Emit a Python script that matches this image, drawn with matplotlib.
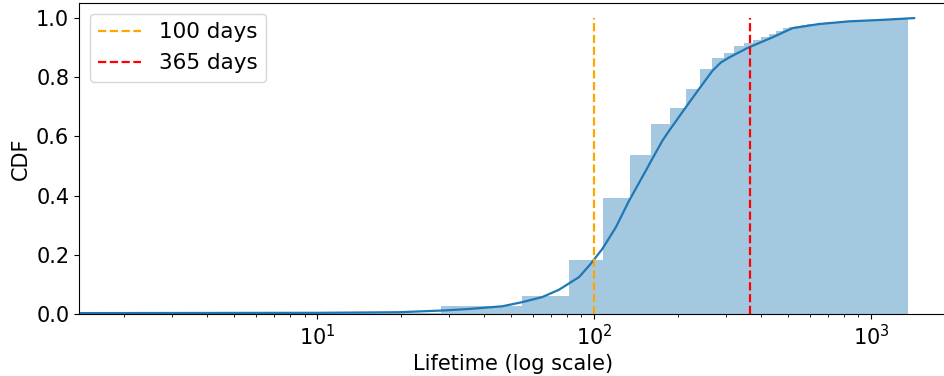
import numpy as np
import matplotlib
matplotlib.use("Agg")
import matplotlib.pyplot as plt

# Histogram (cumulative) - equal-width bins in linear space
bin_start = 1.5
bin_stop = 1358.0
n_bins = 51
cum_heights = [0.005, 0.028, 0.061, 0.182, 0.392, 0.538, 0.640, 0.697, 0.759, 0.827,
               0.863, 0.880, 0.905, 0.915, 0.925, 0.935, 0.947, 0.957, 0.964, 0.970,
               0.973, 0.976, 0.978, 0.980, 0.982, 0.984, 0.985, 0.986, 0.987, 0.988,
               0.989, 0.990, 0.991, 0.992, 0.992, 0.993, 0.993, 0.994, 0.994, 0.995,
               0.995, 0.996, 0.996, 0.997, 0.997, 0.998, 0.998, 0.998, 0.999, 0.999,
               1.000]

# Smooth CDF line
cdf_x = [1.38, 10, 19.8, 28.7, 35.4, 46.6, 55.0, 64.9, 74.7, 88.3, 97.3, 107.1,
         119.8, 133.8, 153.7, 160.2, 176.4, 186.6, 214.3, 239.3, 267.3, 286.7,
         307.2, 357.6, 440.3, 519.9, 649.2, 833, 1096, 1430]
cdf_y = [0.003, 0.004, 0.006, 0.012, 0.017, 0.026, 0.040, 0.057, 0.082, 0.125,
         0.170, 0.220, 0.293, 0.383, 0.484, 0.515, 0.585, 0.619, 0.698, 0.760,
         0.821, 0.849, 0.866, 0.898, 0.934, 0.965, 0.979, 0.988, 0.993, 0.999]

markers = [100, 365]
marker_labels = ['100 days', '365 days']
marker_colors = ['orange', 'red']

plt.rcParams['font.size'] = 15

fig = plt.figure(figsize=(9.45, 3.76), dpi=100)
ax = fig.add_axes([79 / 945, 62 / 376, 868 / 945, 311 / 376])

edges = np.linspace(bin_start, bin_stop, n_bins + 1)
ax.bar(edges[:-1], cum_heights, width=np.diff(edges), align='edge',
       color='#1f77b4', alpha=0.4, linewidth=0)
ax.plot(cdf_x, cdf_y, color='#1f77b4', lw=1.6)

for m, lab, c in zip(markers, marker_labels, marker_colors):
    ax.vlines(m, 0, 1.0, colors=c, linestyles='--', lw=1.6, label=lab)

ax.set_xscale('log')
ax.set_xlim(1.38, 1880)
ax.set_ylim(0, 1.05)
ax.set_xlabel('Lifetime (log scale)')
ax.set_ylabel('CDF')
ax.legend(loc='upper left', fontsize=15.5)

fig.savefig('out.png', dpi=100)
